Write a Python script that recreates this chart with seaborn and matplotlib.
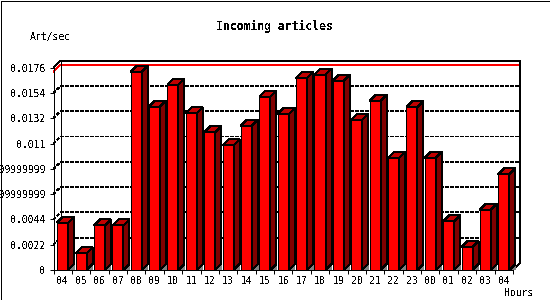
import numpy as np
import pandas as pd
import matplotlib
matplotlib.use("Agg")
import matplotlib.pyplot as plt
import seaborn as sns
from matplotlib.patches import Polygon, Rectangle
from matplotlib.lines import Line2D

# ---- data ----
hours = ["04", "05", "06", "07", "08", "09", "10", "11", "12", "13", "14", "15",
         "16", "17", "18", "19", "20", "21", "22", "23", "00", "01", "02", "03", "04"]
rate = [0.00413, 0.00145, 0.00387, 0.00387, 0.01724, 0.01421, 0.01611, 0.01362,
        0.01198, 0.01083, 0.01256, 0.01507, 0.01357, 0.01669, 0.01698, 0.01646,
        0.01305, 0.01470, 0.00976, 0.01418, 0.00976, 0.00424, 0.00199, 0.00526,
        0.00832]
ytick_values = [0, 0.0022, 0.0044, 0.0066, 0.0088, 0.011, 0.0132, 0.0154, 0.0176]
ytick_labels = ["0", "0.0022", "0.0044", "0.006599999999999999",
                "0.008799999999999999", "0.011", "0.0132", "0.0154", "0.0176"]
title = "Incoming articles"
ylabel = "Art/sec"
xlabel = "Hours"

sns.set_theme(style="white")
plt.rcParams.update({
    "font.family": ["DejaVu Sans Mono"],
    "lines.scale_dashes": False,
    "patch.antialiased": False,
    "lines.antialiased": False,
    "text.antialiased": False,
})

W, H = 550, 300
fig = plt.figure(figsize=(W / 100, H / 100), dpi=100, facecolor="white")
ax = fig.add_axes([53.5 / W, 30 / H, (513 - 53.5) / W, (270 - 67.6) / H])
ax.set_facecolor("none")

df = pd.DataFrame({"slot": np.arange(len(hours)), "rate": rate})
sns.barplot(data=df, x="slot", y="rate", width=0.6, color="#FF0000",
            saturation=1, edgecolor="black", linewidth=0.72, errorbar=None,
            ax=ax, zorder=2)

ax.set_xlim(-0.5, len(hours) - 0.5)
ax.set_ylim(ytick_values[0], ytick_values[-1])
ax.set_xlabel("")
ax.set_ylabel("")
ax.set_xticks(np.arange(len(hours)))
ax.set_xticklabels(hours, fontsize=7, color="black")
ax.set_xticks(np.arange(-0.5, len(hours), 1), minor=True)
ax.tick_params(axis="x", which="major", length=0, pad=4.5)
ax.tick_params(axis="x", which="minor", length=2.9, width=0.72,
               direction="out", color="black", bottom=True)
ax.set_yticks(ytick_values)
ax.set_yticklabels(ytick_labels, fontsize=7, color="black")
ax.tick_params(axis="y", length=2.9, width=0.72, direction="out",
               color="black", left=True, pad=2.9)
for s in ["top", "right"]:
    ax.spines[s].set_visible(False)
for s in ["left", "bottom"]:
    ax.spines[s].set_color("black")
    ax.spines[s].set_linewidth(0.72)

# ---- 3D decorations ----
x0, x1 = ax.get_xlim()
y0, y1 = ax.get_ylim()
ppx = ax.bbox.width / (x1 - x0)
ppy = ax.bbox.height / (y1 - y0)
D, d = 7, 6
Dx, Dy = D / ppx, D / ppy
dx, dy = d / ppx, d / ppy


def seg(xs, ys, **kw):
    ax.add_line(Line2D(xs, ys, clip_on=False, **kw))


# back frame
seg([x0, x0 + Dx, x1 + Dx, x1 + Dx, x1], [y1, y1 + Dy, y1 + Dy, Dy, 0],
    color="black", lw=0.72, zorder=1.5)
seg([x0 + Dx, x0 + Dx], [Dy, y1 + Dy], color="black", lw=0.72, zorder=0.7)

# dotted gridlines on wall and back
for t in ytick_values[1:-1]:
    seg([x0, x0 + Dx, x1 + Dx], [t, t + Dy, t + Dy], color="black", lw=0.72,
        ls=(0, (1.5, 1.5)), zorder=0.5)

# max line
m = max(rate)
seg([x0, x0 + Dx, x1 + Dx], [m, m + Dy, m + Dy], color="#FF0000", lw=0.72,
    zorder=0.6)

for p in list(ax.patches):
    bx, bw, bh = p.get_x(), p.get_width(), p.get_height()
    r = bx + bw
    ax.add_patch(Polygon([(r, 0), (r + dx, dy), (r + dx, 0)], closed=True,
                         fc="#808080", ec="none", zorder=1.9, clip_on=False))
    ax.add_patch(Polygon([(bx, bh), (bx + dx, bh + dy), (r + dx, bh + dy), (r, bh)],
                         closed=True, fc="#C00000", ec="black", lw=0.72,
                         zorder=2.1, clip_on=False))
    ax.add_patch(Polygon([(r, 0), (r + dx, dy), (r + dx, bh + dy), (r, bh)],
                         closed=True, fc="#800000", ec="black", lw=0.72,
                         zorder=2.1, clip_on=False))

# ---- texts ----
fig.text(274 / W, (H - 26.7) / H, title, ha="center", va="center",
         fontsize=8.3, fontweight="bold", color="black")
fig.text(30 / W, (H - 36.7) / H, ylabel, ha="left", va="center",
         fontsize=7, color="black")
fig.text(504.3 / W, (H - 292.7) / H, xlabel, ha="left", va="center",
         fontsize=7, color="black")

# outer border
fig.add_artist(Rectangle((0.5 / W, 0.5 / H), (W - 1) / W, (H - 1) / H,
                         transform=fig.transFigure, fill=False, ec="black",
                         lw=0.72))

fig.savefig("out.png", dpi=100)
